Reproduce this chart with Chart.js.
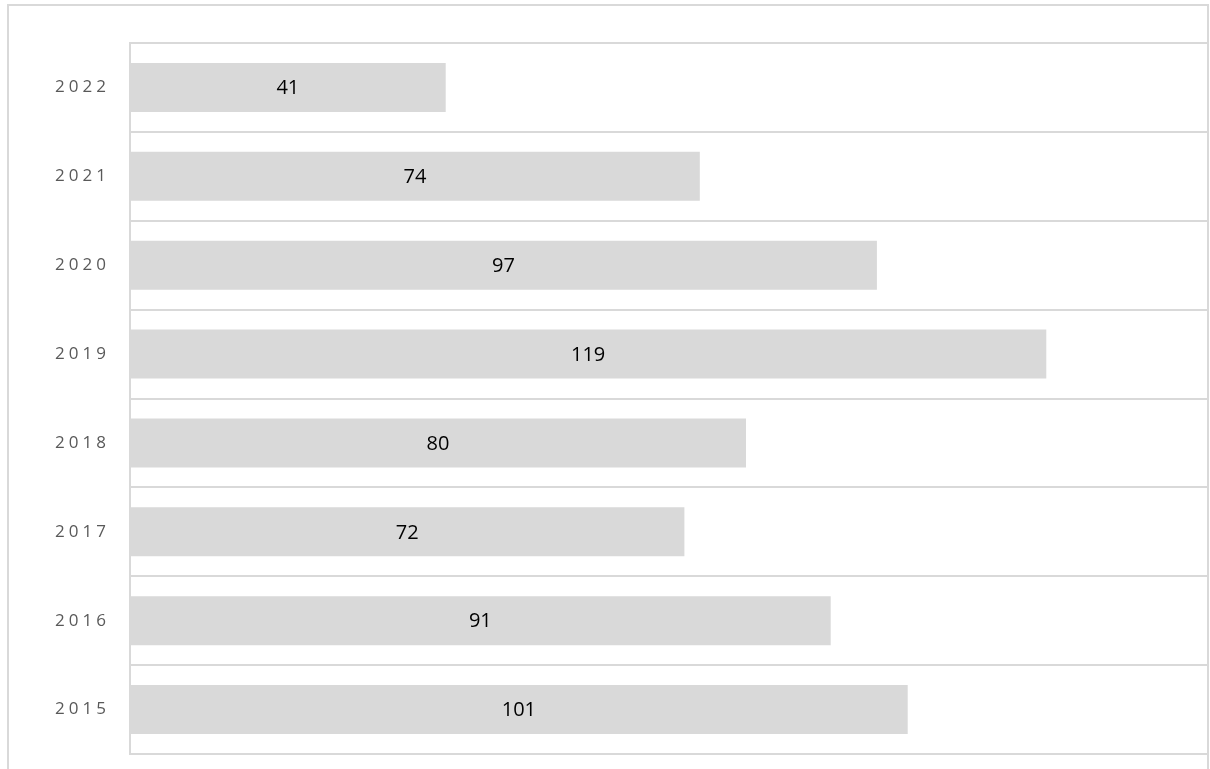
<!DOCTYPE html>
<html>
<head>
<meta charset="utf-8">
<script src="https://cdn.jsdelivr.net/npm/chart.js@4/dist/chart.umd.min.js"></script>
<style>
  html, body { margin: 0; padding: 0; background: #fff; }
  #wrap { width: 1210px; height: 769px; position: relative; }
</style>
</head>
<body>
<div id="wrap"><canvas id="myChart" width="1210" height="769"></canvas></div>
<script>
// values, top to bottom
const years = ['2022', '2021', '2020', '2019', '2018', '2017', '2016', '2015']
const counts = [41, 74, 97, 119, 80, 72, 91, 101]
const xMin = 0
const xMax = 140

const lineGray = '#d9d9d9'

// outer frame + letter spaced year labels
const framePlugin = {
  id: 'frame',
  beforeDraw(chart) {
    let c = chart.ctx
    c.save()
    c.strokeStyle = lineGray
    c.lineWidth = 2
    c.strokeRect(8, 5, 1200, 800)
    c.restore()
    c.letterSpacing = '4px'
  },
  beforeDatasetsDraw(chart) {
    chart.ctx.letterSpacing = '0px'
  }
}

// value text in the middle of every bar
const valueLabels = {
  id: 'valueLabels',
  afterDatasetsDraw(chart) {
    let c = chart.ctx
    let meta = chart.getDatasetMeta(0)
    c.save()
    c.font = '20px "Open Sans"'
    c.fillStyle = '#000'
    c.textAlign = 'center'
    c.textBaseline = 'middle'
    meta.data.forEach(function (bar, i) {
      let v = chart.data.datasets[0].data[i]
      c.fillText(String(v), (bar.base + bar.x) / 2, bar.y + 1)
    })
    c.restore()
  }
}

let ctx = document.getElementById('myChart').getContext('2d')

let myChart = new Chart(ctx, {
  type: 'bar',
  data: {
    labels: years,
    datasets: [{
      data: counts,
      backgroundColor: '#d9d9d9',
      borderWidth: 0,
      barPercentage: 0.55,
      categoryPercentage: 1
    }]
  },
  options: {
    indexAxis: 'y',
    responsive: false,
    animation: false,
    layout: { padding: { top: 43, bottom: 15, right: 2, left: 0 } },
    plugins: { legend: { display: false }, tooltip: { enabled: false } },
    scales: {
      x: { display: false, min: xMin, max: xMax },
      y: {
        afterFit(scale) {
          scale.width = 130
          // tick padding would otherwise eat space at top and bottom
          scale.paddingTop = 0
          scale.paddingBottom = 0
        },
        border: { display: true, color: lineGray, width: 2 },
        grid: { color: lineGray, lineWidth: 2, drawTicks: false, offset: true },
        ticks: {
          color: '#595959',
          padding: 20,
          font: { family: '"Open Sans"', size: 17 }
        }
      }
    }
  },
  plugins: [framePlugin, valueLabels]
})
</script>
</body>
</html>
